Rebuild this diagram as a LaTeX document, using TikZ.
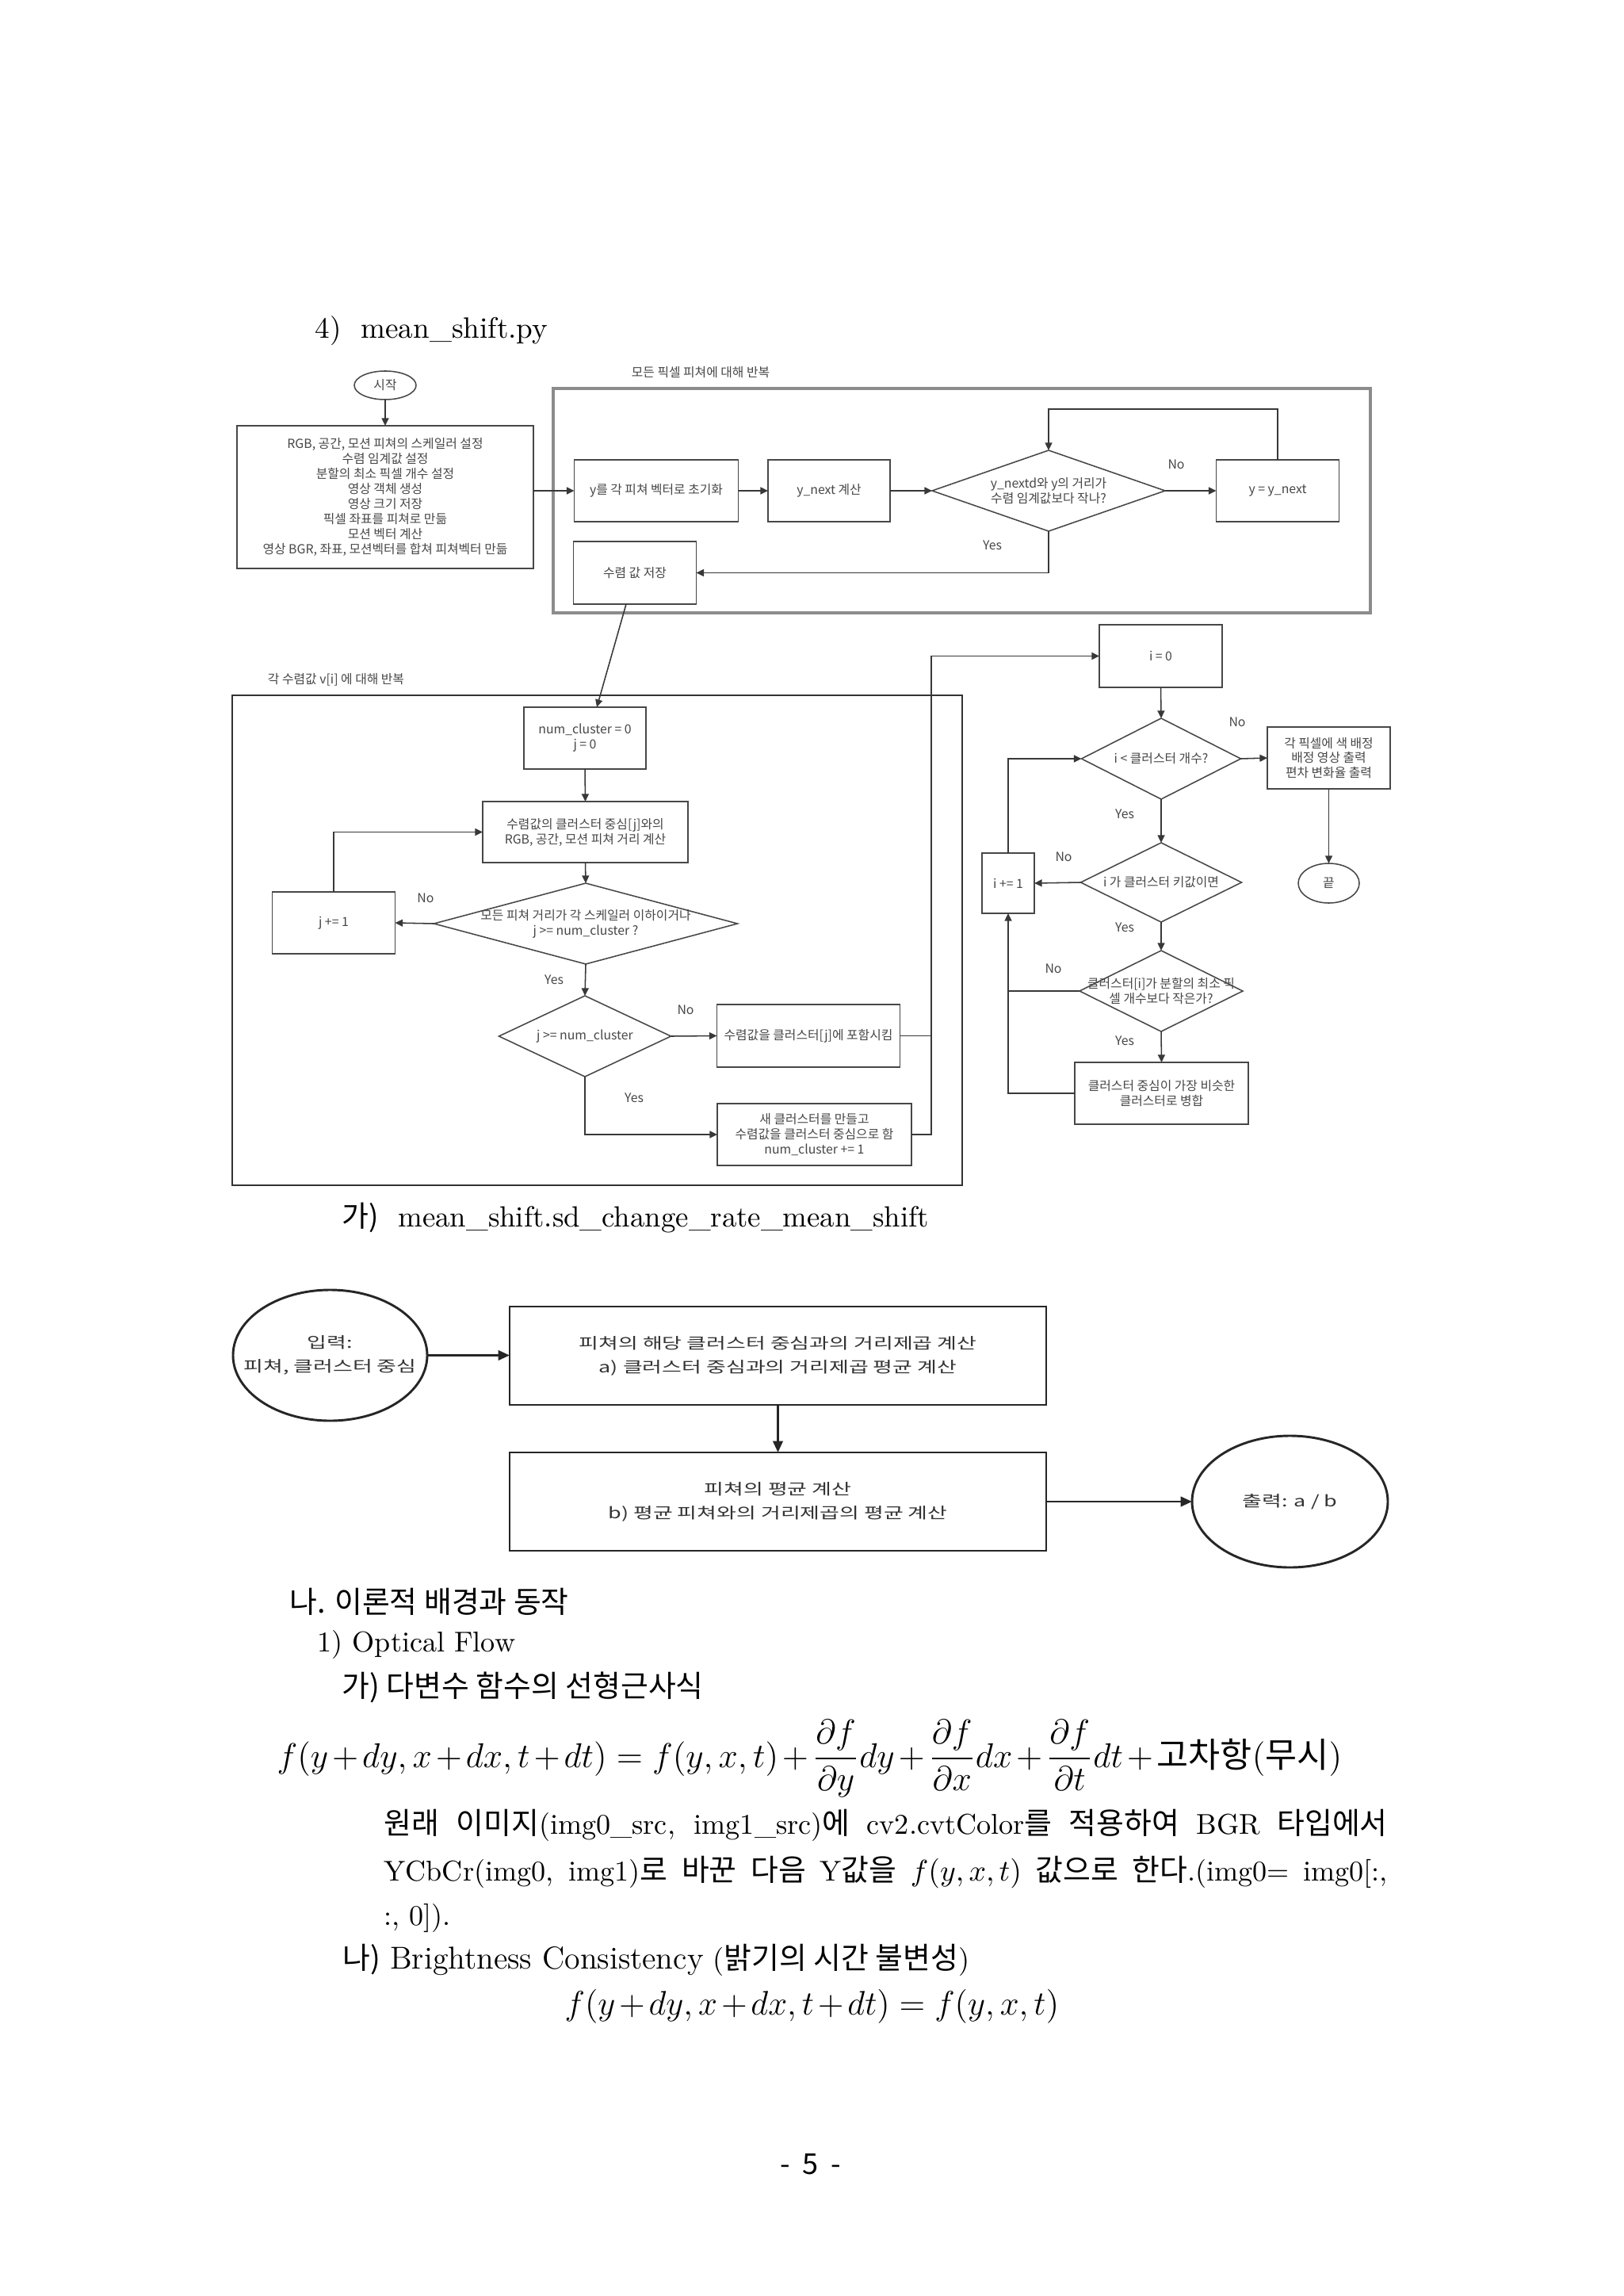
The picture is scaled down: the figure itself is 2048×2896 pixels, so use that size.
\documentclass[tikz,border=0pt]{standalone}
\usepackage{graphicx}
\usepackage{fontspec}
\usepackage{amsmath}
\newfontfamily\kr{Noto Sans CJK KR}
\newfontfamily\krw[FakeStretch=1.4]{Noto Sans CJK KR}
\usetikzlibrary{arrows.meta,shapes.geometric}
\def\pxu{0.29068pt}
\newcommand\krb[1]{{\kr\fontsize{11}{13}\selectfont #1}}
\newcommand\eqone{\scalebox{1.055}{\medmuskip=2mu $\displaystyle f(y+dy,x+dx,t+dt)=f(y,x,t)+\frac{\partial f}{\partial y}dy+\frac{\partial f}{\partial x}dx+\frac{\partial f}{\partial t}dt+\mbox{\kr 고차항}(\mbox{\kr 무시})$}}
\newcommand\eqtwo{\scalebox{1.04}{\medmuskip=2mu $\displaystyle f(y+dy,x+dx,t+dt)=f(y,x,t)$}}
\begin{document}
\begin{tikzpicture}[x=0.29068pt, y=-0.29068pt,
  fc/.style={font=\kr\fontsize{4.6}{5.5}\selectfont, text=black!72, align=center, inner sep=0pt},
  sz/.style 2 args={minimum width=#1*\pxu, minimum height=#2*\pxu},
  fbox/.style={fc, draw=black!72, line width=0.45pt, rectangle, outer sep=0pt},
  fdia/.style={draw=black!72, line width=0.45pt, diamond, inner sep=0pt, outer sep=0pt},
  fell/.style={fc, draw=black!72, line width=0.45pt, ellipse, outer sep=0pt},
  fline/.style={draw=black!78, line width=0.45pt},
  farr/.style={fline, -{Triangle[length=2.8pt,width=2.6pt]}},
  gc/.style={font=\krw\fontsize{5.6}{8.7}\selectfont, text=black!80, align=center, inner sep=0pt},
  gbox/.style={gc, draw=black!85, line width=0.85pt, rectangle, outer sep=0pt},
  gell/.style={gc, draw=black!85, line width=0.85pt, ellipse, outer sep=0pt},
  garr/.style={draw=black!85, line width=0.85pt, -{Triangle[length=4.2pt,width=3.6pt]}},
  body/.style={font=\fontsize{10.5}{12.6}\selectfont, inner sep=0pt, anchor=base west},
]
\fill[white] (0,0) rectangle (2048,2896);
\useasboundingbox (0,0) rectangle (2048,2896);

% title
\node[body, font=\fontsize{10.8}{13}\selectfont] (title) at (397,427) {4)\ \ mean\_shift.py};

% ---------- first flowchart ----------
\node[fell, sz={78}{36}] (start) at (486,486) {시작};
\node[fbox, sz={374}{180}] (init) at (486,627) {RGB, 공간, 모션 피쳐의 스케일러 설정\\수렴 임계값 설정\\분할의 최소 픽셀 개수 설정\\영상 객체 생성\\영상 크기 저장\\픽셀 좌표를 피쳐로 만듦\\모션 벡터 계산\\영상 BGR, 좌표, 모션벡터를 합쳐 피쳐벡터 만듦};

\node[draw=black!45, line width=0.9pt, sz={1031}{283}, inner sep=0pt] (cont1) at (1213.5,631.5) {};
\node[fc] (lab1) at (884,470) {모든 픽셀 피쳐에 대해 반복};
\node[fbox, sz={207}{78}] (A) at (828,619) {y를 각 피쳐 벡터로 초기화};
\node[fbox, sz={154}{78}] (B) at (1046,619) {y\_next 계산};
\node[fdia, sz={294}{102}] (D0) at (1323,619) {};
\node[fc] (D0t) at (D0) {y\_nextd와 y의 거리가\\수렴 임계값보다 작나?};
\node[fbox, sz={155}{78}] (C) at (1612,619) {y = y\_next};
\node[fbox, sz={155}{79}] (S) at (801,722.5) {수렴 값 저장};
\coordinate (loopT) at (1612,516);

\draw[farr] (start.south) -- (init.north);
\draw[farr] (init.east |- A.west) -- (A.west);
\draw[farr] (A.east) -- (B.west);
\draw[farr] (B.east) -- (D0.west);
\draw[farr] (D0.east) -- (C.west);
\node[fc] (no0) at (1484,586) {No};
\draw[farr] (C.north) -- (loopT) -| (D0.north);
\draw[farr] (D0.south) |- (S.east);
\node[fc] (yes0) at (1252,688) {Yes};

% container 2
\node[draw=black!80, line width=0.5pt, sz={921}{618}, inner sep=0pt] (cont2) at (753.5,1186) {};
\node[fc] (lab2) at (424,857) {각 수렴값 v[i] 에 대해 반복};
\node[fbox, sz={154}{78}] (N) at (738,931) {num\_cluster = 0\\j = 0};
\draw[farr] ([xshift=-11*\pxu]S.south) -- ([xshift=15*\pxu]N.north);
\node[fbox, sz={259}{77}] (R) at (738.5,1049.5) {수렴값의 클러스터 중심[j]와의\\RGB, 공간, 모션 피쳐 거리 계산};
\node[fdia, sz={383}{102}] (D1) at (739,1165) {};
\node[fc] (D1t) at (D1) {모든 피쳐 거리가 각 스케일러 이하이거나\\j >= num\_cluster ?};
\node[fbox, sz={155}{78}] (J) at (421,1164) {j += 1};
\node[fdia, sz={217}{102}] (D2) at (738,1307) {};
\node[fc] (D2t) at (D2) {j >= num\_cluster};
\node[fbox, sz={231}{79}] (P) at (1020,1306.5) {수렴값을 클러스터[j]에 포함시킴};
\node[fbox, sz={245}{78}] (NC) at (1027.5,1431) {새 클러스터를 만들고\\수렴값을 클러스터 중심으로 함\\num\_cluster += 1};
\coordinate (mj) at (1175,1431);

\draw[farr] (N.south) -- (R.north);
\draw[farr] (R.south) -- (D1.north);
\draw[farr] (D1.west) -- (J.east);
\node[fc] (no1) at (537,1133) {No};
\draw[farr] (J.north) |- (R.west);
\draw[farr] (D1.south) -- (D2.north);
\node[fc] (yes1) at (699,1236) {Yes};
\draw[farr] (D2.east) -- (P.west);
\node[fc] (no2) at (865,1274) {No};
\draw[farr] (D2.south) |- (NC.west);
\node[fc] (yes2) at (800,1385) {Yes};

% right part
\node[fbox, sz={155}{79}] (I0) at (1464.5,827.5) {i = 0};
\node[fdia, sz={201}{102}] (D3) at (1465,957) {};
\node[fc] (D3t) at (D3) {i < 클러스터 개수?};
\node[fbox, sz={155}{78}] (OUT) at (1676.5,956) {각 픽셀에 색 배정\\배정 영상 출력\\편차 변화율 출력};
\node[fell, sz={77}{50}] (END) at (1676.5,1114) {끝};
\node[fdia, sz={203}{100}] (D4) at (1465,1113) {};
\node[fc] (D4t) at (D4) {i 가 클러스터 키값이면};
\node[fbox, sz={66}{76}] (IP) at (1272,1114) {i += 1};
\node[fdia, sz={206}{102}] (D5) at (1465,1250) {};
\node[fc] (D5t) at (D5) {클러스터[i]가 분할의 최소 픽\\셀 개수보다 작은가?};
\node[fbox, sz={219}{78}] (M) at (1465.5,1379) {클러스터 중심이 가장 비슷한\\클러스터로 병합};

\draw[fline] (P.east) -- (P.east -| mj);
\draw[farr] (NC.east) -- (mj) |- (I0.west);
\draw[farr] (I0.south) -- (D3.north);
\draw[farr] (D3.east) -- (OUT.west);
\node[fc] (no3) at (1561,911) {No};
\draw[farr] (OUT.south) -- (END.north);
\draw[farr] (D3.south) -- (D4.north);
\node[fc] (yes3) at (1419,1027) {Yes};
\draw[farr] (D4.west) -- (IP.east);
\node[fc] (no4) at (1342,1081) {No};
\draw[farr] (IP.north) |- (D3.west);
\draw[farr] (D4.south) -- (D5.north);
\node[fc] (yes4) at (1419,1170) {Yes};
\draw[farr] (D5.south) -- (M.north);
\node[fc] (yes5) at (1419,1313) {Yes};
\draw[farr] (M.west) -| (IP.south);
\draw[fline] (D5.west) -- (D5.west -| IP.south);
\node[fc] (no5) at (1329,1222) {No};

% caption
\node[body, font=\fontsize{10.7}{13}\selectfont] (cap) at (431,1547) {{\kr 가)}\ \ mean\_shift.sd\_change\_rate\_mean\_shift};

% ---------- second flowchart ----------
\node[gell, sz={245}{165}] (IN) at (416.5,1709.5) {};
\node[gc] (INt) at (IN) {입력:\\피쳐, 클러스터 중심};
\node[gbox, sz={677}{124}] (B1) at (981.5,1710) {피쳐의 해당 클러스터 중심과의 거리제곱 계산\\a) 클러스터 중심과의 거리제곱 평균 계산};
\node[gbox, sz={677}{124}] (B2) at (981.5,1894) {피쳐의 평균 계산\\b) 평균 피쳐와의 거리제곱의 평균 계산};
\node[gell, sz={247}{166}] (OE) at (1627.5,1894) {출력: a / b};
\draw[garr] (IN.east) -- (IN.east -| B1.west);
\draw[garr] (B1.south) -- (B2.north);
\draw[garr] (B2.east) -- (OE.west);

% ---------- body text ----------
\node[body] (s1) at (365,2034) {\krb{나. 이론적 배경과 동작}};
\node[body] (s2) at (400,2083) {1) Optical Flow};
\node[body] (s3) at (431,2140) {\krb{가) 다변수 함수의 선형근사식}};
\node[body, font=\fontsize{12}{15}\selectfont] (eq1) at (349,2229) {\eqone};
\node[body] (s4) at (484,2313) {\makebox[368pt][s]{\krb{원래} \krb{이미지}(img0\_src, img1\_src)\krb{에} cv2.cvtColor\krb{를} \krb{적용하여} BGR \krb{타입에서}}};
\node[body] (s5) at (484,2372) {\makebox[368pt][s]{YCbCr(img0, img1)\krb{로} \krb{바꾼} \krb{다음} Y\krb{값을} $f(y,x,t)$ \krb{값으로} \krb{한다}.(img0= img0[:,}};
\node[body] (s6) at (484,2428) {:, 0]).};
\node[body] (s7) at (432,2483) {\krb{나)} {\fontsize{11.6}{13}\selectfont Brightness Consistency} (\krb{밝기의 시간 불변성})};
\node[body, font=\fontsize{12}{15}\selectfont] (eq2) at (712,2541) {\eqtwo};
\node[font=\kr\fontsize{10.5}{12}\selectfont, inner sep=0pt] (pg) at (1023,2730) {-\hspace{4.5pt}5\hspace{4.5pt}-};
\end{tikzpicture}
\end{document}
